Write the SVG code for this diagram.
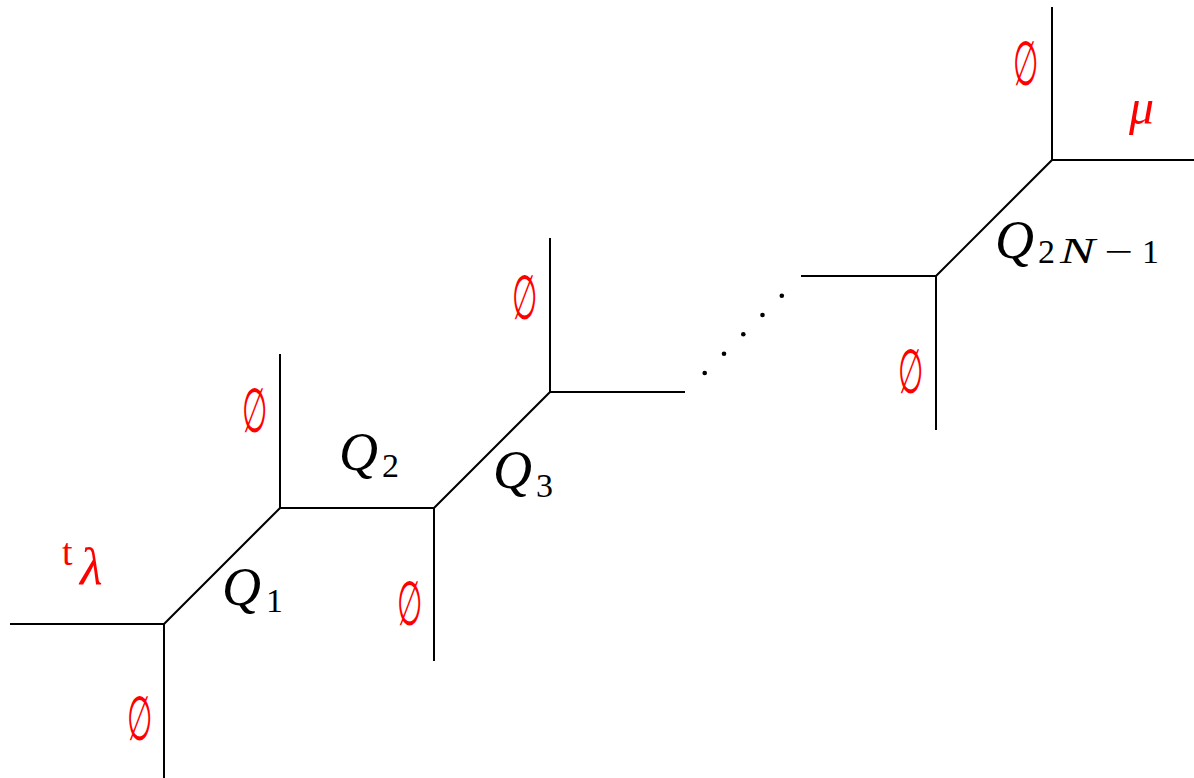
<svg xmlns="http://www.w3.org/2000/svg" width="1194" height="778" viewBox="0 0 1194 778">
<style>
.e{stroke:#000;stroke-width:2;fill:none;stroke-linecap:butt}
.em{font-family:"DejaVu Serif","Liberation Serif",serif;font-size:62px;fill:#ff0000;text-anchor:middle}
.q{font-family:"Liberation Serif",serif;font-style:italic;font-size:54px;fill:#000}
.s{font-family:"Liberation Serif",serif;font-size:34px;fill:#000}
.si{font-family:"Liberation Serif",serif;font-style:italic;font-size:35px;fill:#000}
</style>
<rect width="1194" height="778" fill="#fff"/>
<g id="connectors">
<path class="e" d="M10 624H164V778M164 624L280 508V354M280 508H434V661M434 508L550 392V238M550 392H685"/>
<path class="e" d="M801 276H936V430M936 276L1052 160V7M1052 160H1194"/>
</g>
<g id="dots" fill="#000">
<circle cx="704.7" cy="373" r="2.3"/>
<circle cx="724" cy="353.7" r="2.3"/>
<circle cx="743.3" cy="334.3" r="2.3"/>
<circle cx="762.5" cy="315" r="2.3"/>
<circle cx="781.8" cy="295.7" r="2.3"/>
</g>
<g id="node1">
<text class="em" transform="translate(140,740) scale(0.47,1)">∅</text>
<text x="62" y="565" font-family="Liberation Serif, serif" font-size="38" fill="#ff0000">t</text>
<text x="80" y="584" font-family="Liberation Serif, serif" font-style="italic" font-size="52" fill="#ff0000">λ</text>
<text class="q" x="222" y="605">Q</text><text class="s" x="266" y="612">1</text>
</g>
<g id="node2">
<text class="em" transform="translate(255,432) scale(0.47,1)">∅</text>
<text class="q" x="339" y="470">Q</text><text class="s" x="382" y="477">2</text>
</g>
<g id="node3">
<text class="em" transform="translate(410,625) scale(0.47,1)">∅</text>
<text class="q" x="493" y="488">Q</text><text class="s" x="536" y="497">3</text>
</g>
<g id="node4">
<text class="em" transform="translate(525,319) scale(0.47,1)">∅</text>
</g>
<g id="node5">
<text class="em" transform="translate(911,393) scale(0.47,1)">∅</text>
<text class="q" x="995" y="258">Q</text><text class="s" x="1038" y="263">2</text>
<text class="si" transform="translate(1060,263) scale(1.5,1)">N</text>
<text class="s" transform="translate(1104,263) scale(1.5,1)">−</text>
<text class="s" x="1142" y="263">1</text>
</g>
<g id="node6">
<text class="em" transform="translate(1026,85) scale(0.47,1)">∅</text>
<text x="1129" y="124" font-family="Liberation Serif, serif" font-style="italic" font-size="50" fill="#ff0000">μ</text>
</g>
</svg>
